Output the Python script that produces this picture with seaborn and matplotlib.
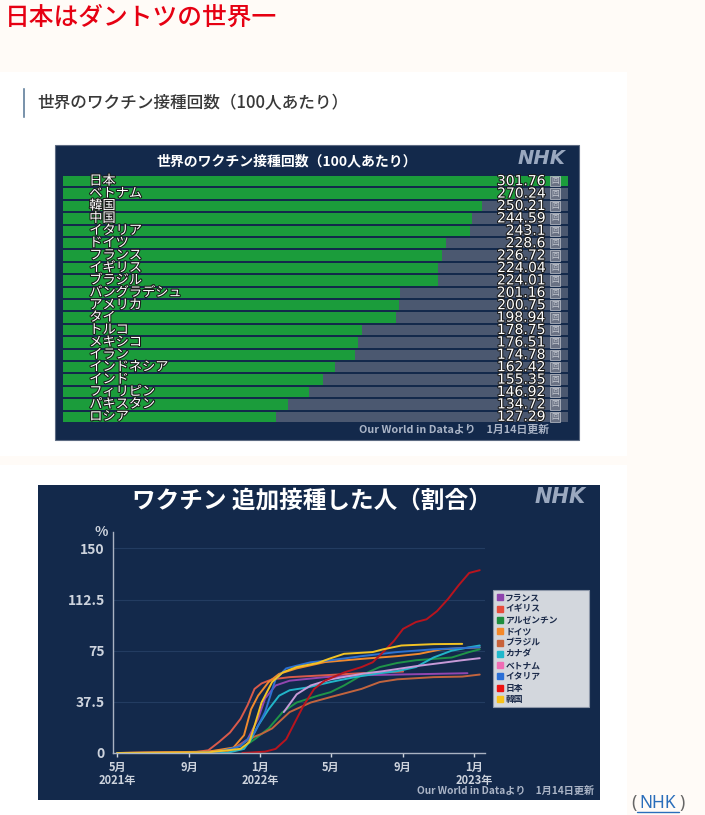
import numpy as np
import pandas as pd
import seaborn as sns
import matplotlib.pyplot as plt
import matplotlib.patheffects as pe
from matplotlib.patches import Rectangle
from matplotlib.lines import Line2D

# bar chart data (doses per 100 people)
countries = ["日本", "ベトナム", "韓国", "中国", "イタリア", "ドイツ", "フランス", "イギリス", "ブラジル",
             "バングラデシュ", "アメリカ", "タイ", "トルコ", "メキシコ", "イラン", "インドネシア", "インド",
             "フィリピン", "パキスタン", "ロシア"]
doses = [301.76, 270.24, 250.21, 244.59, 243.1, 228.6, 226.72, 224.04, 224.01, 201.16, 200.75,
         198.94, 178.75, 176.51, 174.78, 162.42, 155.35, 146.92, 134.72, 127.29]
dose_labels = ["301.76", "270.24", "250.21", "244.59", "243.1", "228.6", "226.72", "224.04", "224.01",
               "201.16", "200.75", "198.94", "178.75", "176.51", "174.78", "162.42", "155.35", "146.92",
               "134.72", "127.29"]

# booster share (%)
france_dates = ["2021-05-01", "2021-09-09", "2021-10-04", "2021-11-16", "2021-12-10", "2021-12-28", "2022-01-09",
                "2022-01-27", "2022-02-20", "2022-04-21", "2022-06-23", "2022-08-23", "2022-10-24", "2022-12-21"]
france_vals = [0, 0.5, 1, 3, 10, 25, 40, 49.5, 53, 55.6, 57, 57.5, 58, 58.5]
uk_dates = ["2021-05-01", "2021-09-09", "2021-10-04", "2021-10-22", "2021-11-10", "2021-11-28", "2021-12-10",
            "2021-12-22", "2022-01-03", "2022-01-21", "2022-02-20", "2022-04-21", "2022-06-23", "2022-09-02"]
uk_vals = [0, 0.5, 2, 8, 15, 25, 35, 47, 51, 54, 55.6, 57, 58.5, 59.7]
argentina_dates = ["2021-05-01", "2021-10-10", "2021-11-28", "2021-12-22", "2022-01-15", "2022-02-08", "2022-03-04",
                   "2022-04-09", "2022-05-01", "2022-05-24", "2022-06-23", "2022-07-24", "2022-08-23", "2022-09-24",
                   "2022-10-24", "2022-11-24", "2022-12-24", "2023-01-11"]
argentina_vals = [0, 0, 3, 10, 18, 30, 37, 42, 44.6, 49.5, 57, 63, 66, 68, 69, 70, 74, 76]
germany_dates = ["2021-05-01", "2021-10-04", "2021-11-16", "2021-12-04", "2021-12-16", "2021-12-28", "2022-01-15",
                 "2022-02-02", "2022-03-04", "2022-04-21", "2022-06-23", "2022-08-23", "2022-09-30", "2022-11-06",
                 "2023-01-11"]
germany_vals = [0, 1, 4, 13, 32, 42, 52, 58, 62, 66.6, 69, 71, 72.7, 76, 77.5]
brazil_dates = ["2021-05-01", "2021-11-04", "2021-12-22", "2022-01-03", "2022-01-21", "2022-02-20", "2022-03-28",
                "2022-05-01", "2022-06-23", "2022-07-24", "2022-08-23", "2022-10-24", "2022-12-12", "2023-01-11"]
brazil_vals = [0, 0.5, 12, 14, 18, 30, 37, 41, 47, 52, 54, 55.6, 56, 57.5]
canada_dates = ["2021-05-01", "2021-11-04", "2021-12-04", "2021-12-16", "2021-12-28", "2022-01-15", "2022-02-02",
                "2022-02-20", "2022-03-22", "2022-05-01", "2022-06-11", "2022-07-24", "2022-08-23", "2022-09-24",
                "2022-10-24", "2022-11-24", "2022-12-24", "2023-01-11"]
canada_vals = [0, 0, 3, 10, 20, 32, 42, 46, 48, 52, 55.6, 58.5, 60, 63, 70, 75, 77.5, 78.8]
vietnam_dates = ["2022-02-10", "2022-03-04", "2022-03-28", "2022-05-01", "2022-06-23", "2022-07-30", "2022-08-30",
                 "2022-09-30", "2022-11-06", "2022-12-12", "2023-01-11"]
vietnam_vals = [30, 43, 49.5, 54, 58, 60, 62, 64, 66, 68, 69.5]
italy_dates = ["2021-05-01", "2021-09-09", "2021-10-22", "2021-11-28", "2021-12-22", "2022-01-09", "2022-01-27",
               "2022-02-14", "2022-03-04", "2022-03-28", "2022-05-01", "2022-06-23", "2022-08-23", "2022-10-24",
               "2023-01-11"]
italy_vals = [0, 0, 1, 5, 15, 30, 54, 62, 64, 66.5, 68, 71, 74, 76, 77.5]
japan_dates = ["2021-12-01", "2022-01-09", "2022-01-27", "2022-02-14", "2022-02-26", "2022-03-10", "2022-03-16",
               "2022-04-03", "2022-04-21", "2022-05-24", "2022-06-23", "2022-07-12", "2022-07-30", "2022-08-17",
               "2022-09-02", "2022-09-24", "2022-10-12", "2022-10-30", "2022-11-18", "2022-12-06", "2022-12-24",
               "2023-01-11"]
japan_vals = [0, 1, 3, 10, 20, 30, 35, 47, 53, 59, 63, 66.5, 74, 82, 91, 96, 98, 104, 113, 123, 132, 134]
korea_dates = ["2021-05-01", "2021-10-04", "2021-11-28", "2021-12-13", "2021-12-22", "2022-01-03", "2022-01-21",
               "2022-02-08", "2022-03-04", "2022-04-09", "2022-04-28", "2022-05-24", "2022-07-12", "2022-07-30",
               "2022-08-30", "2022-10-24", "2022-12-12"]
korea_vals = [0, 0.5, 3, 8, 20, 37, 52, 59, 63, 66, 69, 72.7, 74, 76, 78.8, 79.8, 80]

series_names = ["フランス", "イギリス", "アルゼンチン", "ドイツ", "ブラジル", "カナダ", "ベトナム", "イタリア", "日本", "韓国"]
series_data = [(france_dates, france_vals), (uk_dates, uk_vals), (argentina_dates, argentina_vals),
               (germany_dates, germany_vals), (brazil_dates, brazil_vals), (canada_dates, canada_vals),
               (vietnam_dates, vietnam_vals), (italy_dates, italy_vals), (japan_dates, japan_vals),
               (korea_dates, korea_vals)]
line_colors = ["#9146b0", "#d95a4a", "#1f9448", "#f0892e", "#c2643e", "#22b5c8", "#c79ad8", "#2d72d2", "#b8141e", "#f2c324"]
legend_colors = ["#8e44ad", "#e74c3c", "#1e8e3e", "#f5892a", "#c8623a", "#20b8cc", "#f06cb4", "#2a6fd6", "#ee1111", "#f8c21a"]

x_ticks = ["2021-05-01", "2021-09-01", "2022-01-01", "2022-05-01", "2022-09-01", "2023-01-01"]
x_tick_labels = ["5月\n2021年", "9月", "1月\n2022年", "5月", "9月", "1月\n2023年"]
y_ticks = [0, 37.5, 75, 112.5, 150]
y_tick_labels = ["0", "37.5", "75", "112.5", "150"]

sns.set_theme(style="white")
plt.rcParams['font.family'] = ['Noto Sans CJK JP', 'DejaVu Sans']

W, H = 705, 815
fig = plt.figure(figsize=(W / 100, H / 100), dpi=100)
fig.patch.set_facecolor("#fffbf7")


def px_axes(x0, y0, x1, y1):
    return fig.add_axes([x0 / W, 1 - y1 / H, (x1 - x0) / W, (y1 - y0) / H])


def px(x, y):
    return x / W, 1 - y / H


# page cards and panels (behind the axes)
for (x0, y0, x1, y1, fc, ec) in [(0, 72, 627, 456, "white", "none"), (0, 465, 627, 815, "white", "none"),
                                 (55, 145, 579, 440, "#13294b", "#5d6b82"), (38, 485, 600, 800, "#13294b", "none")]:
    fig.patches.append(Rectangle(px(x0, y1), (x1 - x0) / W, (y1 - y0) / H, transform=fig.transFigure,
                                 facecolor=fc, edgecolor=ec, lw=0.8, zorder=-2))
fig.patches.append(Rectangle(px(22, 118), 3 / W, 31 / H, transform=fig.transFigure, facecolor="#5b7b99", zorder=-1))

fig.text(*px(5, 18), "日本はダントツの世界一", color="#e60012", fontsize=17.8, fontweight="medium",
         va="center", ha="left")
fig.text(*px(37, 103), "世界のワクチン接種回数（100人あたり）", color="#383838", fontsize=12,
         fontweight="medium", va="center", ha="left")

# bar chart
fig.text(*px(287, 161), "世界のワクチン接種回数（100人あたり）", color="white", fontsize=10,
         fontweight="bold", va="center", ha="center")
fig.text(*px(542, 158), "NHK", color="#9aa8bf", fontsize=14, fontweight="heavy", style="italic",
         family="DejaVu Sans", va="center", ha="center")
axb = px_axes(63, 175, 568, 423)
bar_df = pd.DataFrame({"country": countries, "doses": doses, "full": [max(doses)] * len(doses)})
sns.barplot(data=bar_df, x="full", y="country", color="#4b5870", saturation=1, width=0.85,
            linewidth=0, ax=axb)
sns.barplot(data=bar_df, x="doses", y="country", color="#1b9c3b", saturation=1, width=0.85,
            linewidth=0, ax=axb)
axb.set_xlim(0, max(doses))
axb.set_ylim(len(countries) - 0.5, -0.5)
axb.axis("off")
stroke = [pe.withStroke(linewidth=1.5, foreground="#1a1a1a")]
for i, (name, lab) in enumerate(zip(countries, dose_labels)):
    axb.text(0.052, i, name, transform=axb.get_yaxis_transform(), color="white", fontsize=9.5,
             va="center", ha="left", path_effects=stroke)
    axb.text(0.955, i, lab, transform=axb.get_yaxis_transform(), color="white", fontsize=10,
             family="DejaVu Sans", va="center", ha="right", path_effects=stroke)
    axb.text(0.975, i, "回", transform=axb.get_yaxis_transform(), color="#c4c8d0", fontsize=5.5,
             va="center", ha="center",
             bbox=dict(boxstyle="square,pad=0.15", fc="#6a7284", ec="#c0c4cc", lw=0.5))
fig.text(*px(549, 430), "Our World in Dataより　1月14日更新", color="#aab4c6", fontsize=7.8,
         fontweight="bold", va="center", ha="right")

# line chart
fig.text(*px(312, 501), "ワクチン 追加接種した人（割合）", color="white", fontsize=17,
         fontweight="bold", va="center", ha="center")
fig.text(*px(560, 497), "NHK", color="#9aa8bf", fontsize=15, fontweight="heavy", style="italic",
         family="DejaVu Sans", va="center", ha="center")

rows = []
for name, (ds, vs) in zip(series_names, series_data):
    for d, v in zip(ds, vs):
        rows.append((name, pd.Timestamp(d), v))
line_df = pd.DataFrame(rows, columns=["country", "date", "value"])

axl = px_axes(113, 532, 485, 753)
axl.set_facecolor("none")
sns.lineplot(data=line_df, x="date", y="value", hue="country", hue_order=series_names,
             palette=dict(zip(series_names, line_colors)), estimator=None, sort=False,
             linewidth=1.4, legend=False, ax=axl)
axl.set_xlim(pd.Timestamp("2021-04-24"), pd.Timestamp("2023-01-20"))
axl.set_ylim(0, 162)
axl.set_yticks(y_ticks)
axl.set_yticklabels(y_tick_labels)
axl.set_xticks(pd.to_datetime(x_ticks))
axl.set_xticklabels(x_tick_labels)
axl.set_xlabel("")
axl.set_ylabel("")
for y in y_ticks[1:]:
    axl.axhline(y, color="#233c61", lw=0.8, zorder=0)
for s in ["top", "right"]:
    axl.spines[s].set_visible(False)
for s in ["left", "bottom"]:
    axl.spines[s].set_color("#a9b2c2")
    axl.spines[s].set_linewidth(1)
axl.tick_params(axis="x", colors="#cdd3dd", labelsize=8, length=3, width=1, direction="out", pad=2.5)
axl.tick_params(axis="y", colors="#cdd3dd", labelsize=10, length=0, pad=6)
axl.tick_params(axis="x", bottom=True)
for t in axl.get_xticklabels() + axl.get_yticklabels():
    t.set_fontweight("bold")
for t in axl.get_xticklabels():
    t.set_linespacing(1.0)
fig.text(*px(101, 532), "%", color="#cdd3dd", fontsize=10, fontweight="bold", va="center", ha="center")

handles = [Line2D([], [], marker="s", ls="none", markersize=5, color=c) for c in legend_colors]
leg = axl.legend(handles, series_names, loc="upper left",
                 bbox_to_anchor=(493 / W, 1 - 707 / H, 96 / W, 117 / H), mode="expand",
                 bbox_transform=fig.transFigure, fontsize=6.3, frameon=True, fancybox=False,
                 facecolor="#d3d7dd", edgecolor="#8d97a8", framealpha=1, labelspacing=0.26,
                 handlelength=0.7, handletextpad=0.3, borderpad=0.4, borderaxespad=0)
leg.get_frame().set_linewidth(0.8)
for t in leg.get_texts():
    t.set_color("#1c2b4a")
    t.set_fontweight("bold")

fig.text(*px(594, 791), "Our World in Dataより　1月14日更新", color="#aab4c6", fontsize=7.3,
         fontweight="bold", va="center", ha="right")

# source link
fig.text(*px(637, 803), "(", color="#666666", fontsize=12.5, family="Noto Sans", va="center", ha="right")
fig.text(*px(658, 803), "NHK", color="#2a6ebb", fontsize=12.5, family="Noto Sans", va="center", ha="center")
fig.text(*px(679, 803), ")", color="#666666", fontsize=12.5, family="Noto Sans", va="center", ha="left")
fig.add_artist(Line2D([637 / W, 679 / W], [1 - 812 / H, 1 - 812 / H], transform=fig.transFigure,
                      color="#2a6ebb", lw=1))

fig.savefig("out.png", dpi=100, facecolor=fig.get_facecolor())
